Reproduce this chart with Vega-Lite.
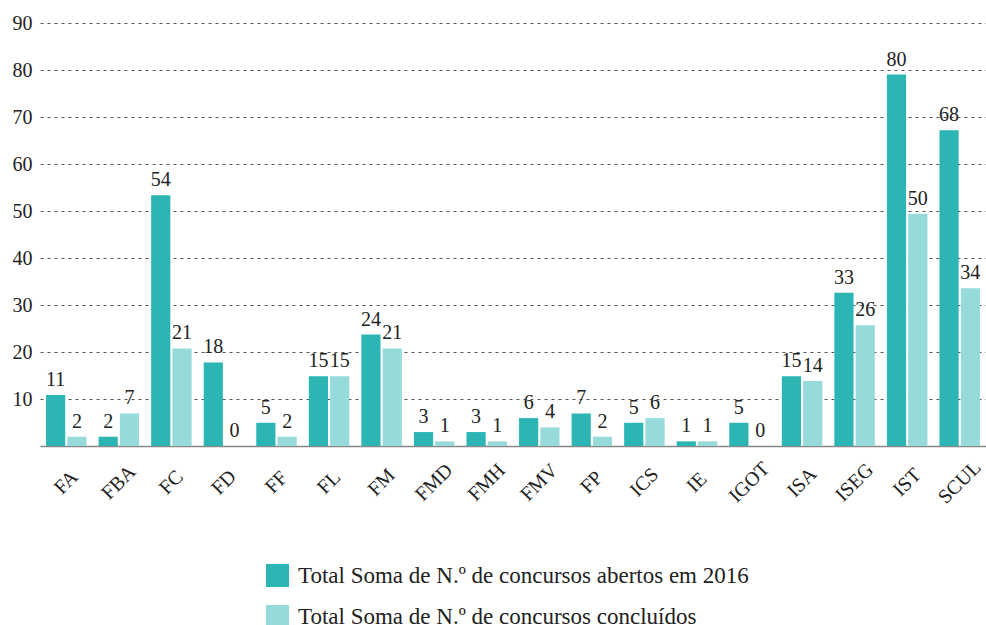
{
  "$schema": "https://vega.github.io/schema/vega-lite/v6.json",
  "width": 946,
  "height": 423,
  "autosize": {"type": "none"},
  "padding": {"left": 40, "top": 23, "right": 0, "bottom": 179},
  "config": {
    "font": "Liberation Serif",
    "view": {"stroke": null},
    "axis": {"labelColor": "#222", "labelFont": "Liberation Serif"},
    "legend": {"labelFont": "Liberation Serif"}
  },
  "data": {
    "values": [
      {"uo": "FA", "serie": "Total Soma de N.º de concursos abertos em 2016", "valor": 11},
      {"uo": "FA", "serie": "Total Soma de N.º de concursos concluídos", "valor": 2},
      {"uo": "FBA", "serie": "Total Soma de N.º de concursos abertos em 2016", "valor": 2},
      {"uo": "FBA", "serie": "Total Soma de N.º de concursos concluídos", "valor": 7},
      {"uo": "FC", "serie": "Total Soma de N.º de concursos abertos em 2016", "valor": 54},
      {"uo": "FC", "serie": "Total Soma de N.º de concursos concluídos", "valor": 21},
      {"uo": "FD", "serie": "Total Soma de N.º de concursos abertos em 2016", "valor": 18},
      {"uo": "FD", "serie": "Total Soma de N.º de concursos concluídos", "valor": 0},
      {"uo": "FF", "serie": "Total Soma de N.º de concursos abertos em 2016", "valor": 5},
      {"uo": "FF", "serie": "Total Soma de N.º de concursos concluídos", "valor": 2},
      {"uo": "FL", "serie": "Total Soma de N.º de concursos abertos em 2016", "valor": 15},
      {"uo": "FL", "serie": "Total Soma de N.º de concursos concluídos", "valor": 15},
      {"uo": "FM", "serie": "Total Soma de N.º de concursos abertos em 2016", "valor": 24},
      {"uo": "FM", "serie": "Total Soma de N.º de concursos concluídos", "valor": 21},
      {"uo": "FMD", "serie": "Total Soma de N.º de concursos abertos em 2016", "valor": 3},
      {"uo": "FMD", "serie": "Total Soma de N.º de concursos concluídos", "valor": 1},
      {"uo": "FMH", "serie": "Total Soma de N.º de concursos abertos em 2016", "valor": 3},
      {"uo": "FMH", "serie": "Total Soma de N.º de concursos concluídos", "valor": 1},
      {"uo": "FMV", "serie": "Total Soma de N.º de concursos abertos em 2016", "valor": 6},
      {"uo": "FMV", "serie": "Total Soma de N.º de concursos concluídos", "valor": 4},
      {"uo": "FP", "serie": "Total Soma de N.º de concursos abertos em 2016", "valor": 7},
      {"uo": "FP", "serie": "Total Soma de N.º de concursos concluídos", "valor": 2},
      {"uo": "ICS", "serie": "Total Soma de N.º de concursos abertos em 2016", "valor": 5},
      {"uo": "ICS", "serie": "Total Soma de N.º de concursos concluídos", "valor": 6},
      {"uo": "IE", "serie": "Total Soma de N.º de concursos abertos em 2016", "valor": 1},
      {"uo": "IE", "serie": "Total Soma de N.º de concursos concluídos", "valor": 1},
      {"uo": "IGOT", "serie": "Total Soma de N.º de concursos abertos em 2016", "valor": 5},
      {"uo": "IGOT", "serie": "Total Soma de N.º de concursos concluídos", "valor": 0},
      {"uo": "ISA", "serie": "Total Soma de N.º de concursos abertos em 2016", "valor": 15},
      {"uo": "ISA", "serie": "Total Soma de N.º de concursos concluídos", "valor": 14},
      {"uo": "ISEG", "serie": "Total Soma de N.º de concursos abertos em 2016", "valor": 33},
      {"uo": "ISEG", "serie": "Total Soma de N.º de concursos concluídos", "valor": 26},
      {"uo": "IST", "serie": "Total Soma de N.º de concursos abertos em 2016", "valor": 80},
      {"uo": "IST", "serie": "Total Soma de N.º de concursos concluídos", "valor": 50},
      {"uo": "SCUL", "serie": "Total Soma de N.º de concursos abertos em 2016", "valor": 68},
      {"uo": "SCUL", "serie": "Total Soma de N.º de concursos concluídos", "valor": 34}
    ]
  },
  "layer": [
    {
      "mark": {"type": "rule", "opacity": 0},
      "encoding": {
        "y": {
          "datum": 0,
          "type": "quantitative",
          "scale": {"domain": [0, 90]},
          "axis": {
            "title": null,
            "values": [10, 20, 30, 40, 50, 60, 70, 80, 90],
            "domain": false,
            "ticks": false,
            "labelFontSize": 20,
            "labelPadding": 8,
            "grid": true,
            "gridColor": "#555",
            "gridDash": [3, 4],
            "gridWidth": 1
          }
        }
      }
    },
    {
      "encoding": {
        "x": {
          "field": "uo",
          "type": "nominal",
          "sort": ["FA", "FBA", "FC", "FD", "FF", "FL", "FM", "FMD", "FMH", "FMV", "FP", "ICS", "IE", "IGOT", "ISA", "ISEG", "IST", "SCUL"],
          "scale": {"paddingInner": 0.23, "paddingOuter": 0.115},
          "axis": {
            "title": null,
            "labelAngle": -45,
            "labelAlign": "center",
            "labelBaseline": "middle",
            "labelFontSize": 20,
            "labelPadding": 36,
            "labelDx": -3,
            "ticks": false,
            "domain": true,
            "domainColor": "#888",
            "domainWidth": 1.5,
            "grid": false
          }
        },
        "xOffset": {
          "field": "serie",
          "type": "nominal",
          "scale": {"paddingInner": 0.1, "paddingOuter": 0}
        },
        "y": {
          "field": "valor",
          "type": "quantitative",
          "scale": {"domain": [0, 91.1]},
          "axis": null
        }
      },
      "layer": [
        {
          "mark": {"type": "bar"},
          "encoding": {
            "color": {
              "field": "serie",
              "type": "nominal",
              "scale": {"range": ["#2bb5b5", "#96dada"]},
              "legend": {
                "title": null,
                "orient": "none",
                "legendX": 226,
                "legendY": 541,
                "direction": "vertical",
                "symbolType": "square",
                "symbolSize": 529,
                "symbolStrokeWidth": 0,
                "labelFontSize": 23,
                "labelColor": "#222",
                "labelOffset": 9,
                "rowPadding": 17,
                "labelLimit": 700
              }
            }
          }
        },
        {
          "mark": {"type": "text", "font": "Liberation Serif", "baseline": "bottom", "dy": -5, "fontSize": 20, "color": "#222"},
          "encoding": {"text": {"field": "valor", "type": "quantitative"}}
        }
      ]
    }
  ],
  "resolve": {"scale": {"y": "independent"}}
}
